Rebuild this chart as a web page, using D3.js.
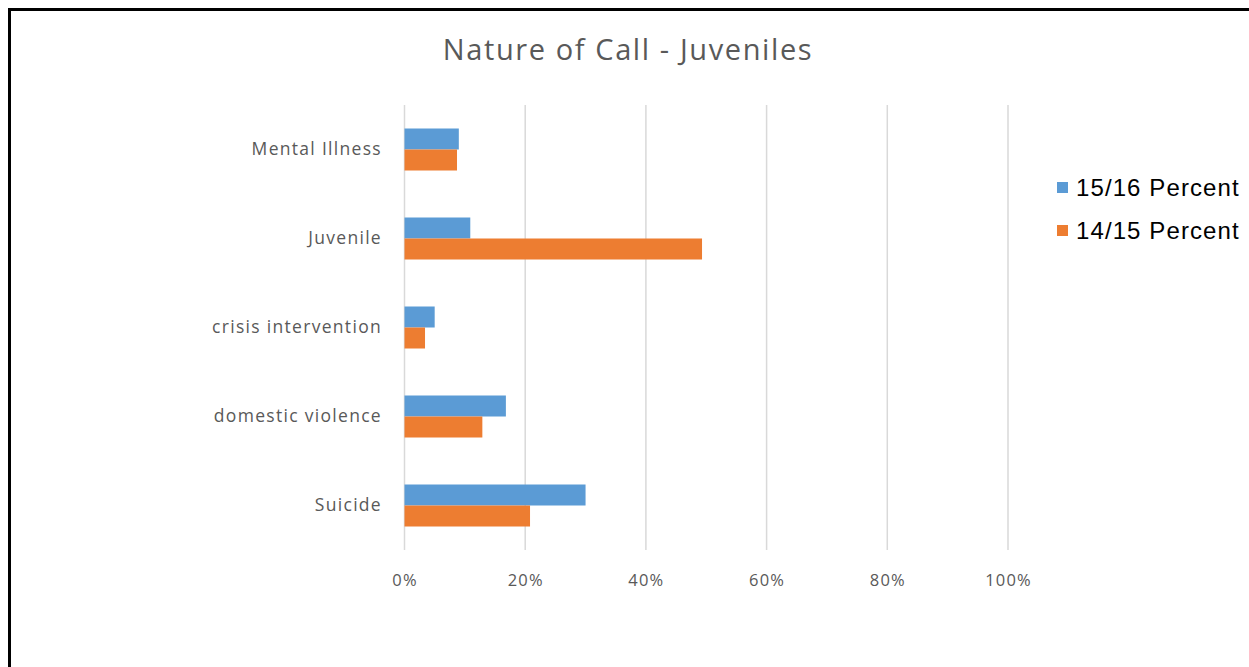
<!DOCTYPE html>
<html>
<head>
<meta charset="utf-8">
<script src="https://cdn.jsdelivr.net/npm/d3@7"></script>
<style>
  body { margin: 0; background: #fff; }
  svg { display: block; }
</style>
</head>
<body>
<script>
// data
var categories = ["Mental Illness", "Juvenile", "crisis intervention", "domestic violence", "Suicide"];
var seriesNames = ["15/16 Percent", "14/15 Percent"];
var values1516 = [0.09, 0.109, 0.05, 0.168, 0.30];
var values1415 = [0.087, 0.493, 0.034, 0.129, 0.208];
var xTicks = [0, 0.2, 0.4, 0.6, 0.8, 1.0];
var colors = ["#5B9BD5", "#ED7D31"];

var width = 1249, height = 667;
var svg = d3.select("body").append("svg").attr("width", width).attr("height", height);

// frame
svg.append("rect").attr("x", 9.5).attr("y", 9.5)
  .attr("width", width + 10).attr("height", height + 10)
  .attr("fill", "#fff").attr("stroke", "#000").attr("stroke-width", 3);

var x = d3.scaleLinear().domain([0, 1]).range([404.5, 1008]);
var y = d3.scaleBand().domain(categories).range([105, 550]);
var barH = 21;

// title
svg.append("text")
  .attr("x", 628).attr("y", 60)
  .attr("text-anchor", "middle")
  .attr("font-family", "Open Sans, sans-serif")
  .attr("font-size", 29)
  .attr("letter-spacing", 1.6)
  .attr("fill", "#595959")
  .text("Nature of Call - Juveniles");

// gridlines
svg.append("g").selectAll("line").data(xTicks).enter().append("line")
  .attr("x1", function(d) { return x(d); })
  .attr("x2", function(d) { return x(d); })
  .attr("y1", 105).attr("y2", 550)
  .attr("stroke", "#d9d9d9").attr("stroke-width", 1.5);

// x axis labels
var xAxis = d3.axisBottom(x).tickValues(xTicks).tickFormat(d3.format(".0%")).tickSize(0).tickPadding(0);
var gx = svg.append("g").attr("transform", "translate(0,574)").call(xAxis);
gx.select(".domain").remove();
gx.selectAll("text")
  .attr("font-family", "Open Sans, sans-serif")
  .attr("font-size", 16.5)
  .attr("letter-spacing", 1.2)
  .attr("fill", "#595959");

// y axis labels
var yAxis = d3.axisLeft(y).tickSize(0).tickPadding(0);
var gy = svg.append("g").attr("transform", "translate(382,0)").call(yAxis);
gy.select(".domain").remove();
gy.selectAll("text")
  .attr("font-family", "Open Sans, sans-serif")
  .attr("font-size", 17.5)
  .attr("letter-spacing", 1.3)
  .attr("fill", "#595959");

// bars
var rows = categories.map(function(c, i) { return { cat: c, v: [values1516[i], values1415[i]] }; });
var groups = svg.append("g").selectAll("g").data(rows).enter().append("g");
groups.selectAll("rect").data(function(d) { return d.v.map(function(v, j) { return { cat: d.cat, v: v, j: j }; }); })
  .enter().append("rect")
  .attr("x", x(0))
  .attr("y", function(d) { return y(d.cat) + y.bandwidth() / 2 - barH + d.j * barH; })
  .attr("width", function(d) { return x(d.v) - x(0); })
  .attr("height", barH)
  .attr("fill", function(d) { return colors[d.j]; });

// legend
var legend = svg.append("g").selectAll("g").data(seriesNames).enter().append("g")
  .attr("transform", function(d, i) { return "translate(1057," + (187 + i * 43) + ")"; });
legend.append("rect").attr("x", 0).attr("y", -5).attr("width", 11).attr("height", 11)
  .attr("fill", function(d, i) { return colors[i]; });
legend.append("text").attr("x", 19).attr("y", 0).attr("dy", "0.36em")
  .attr("font-family", "Liberation Sans, Arial, sans-serif")
  .attr("font-size", 24)
  .attr("letter-spacing", 1.1)
  .attr("fill", "#000")
  .text(function(d) { return d; });
</script>
</body>
</html>
